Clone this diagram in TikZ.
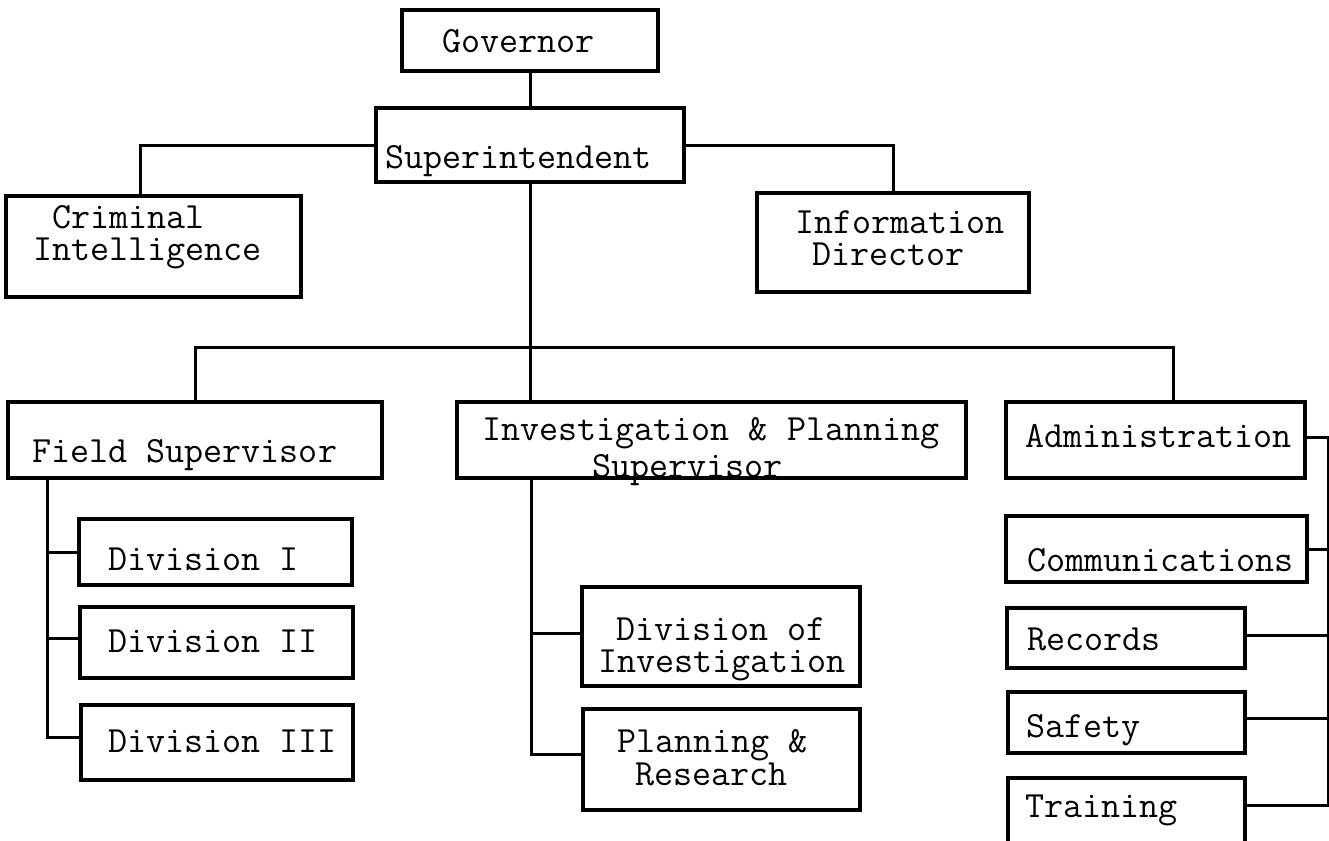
\documentclass[tikz,border=0pt]{standalone}
\usepackage{tikz}
\begin{document}
\begin{tikzpicture}[x=1pt,y=-1pt,
  orgbox/.style={draw, rectangle, line width=3.5pt, inner sep=0pt},
  link/.style={line width=3pt},
  typed/.style={anchor=base west, inner sep=0pt,
    font=\ttfamily\fontsize{37}{32}\selectfont}]

% a box given by its left, top, right and bottom edges
\newcommand\orgunit[5]{%
  \node[orgbox, minimum width={#4pt-#2pt}, minimum height={#5pt-#3pt}]
    (#1) at ({(#2+#4)/2},{(#3+#5)/2}) {};}

\clip (0,0) rectangle (1329,840);
\fill[white] (0,0) rectangle (1329,840);

% top of the chart
\orgunit{gov}{402}{10}{658}{71}
\orgunit{sup}{376}{108}{684}{182}
\orgunit{crim}{6}{196}{301}{297}
\orgunit{info}{757}{193}{1029}{292}

% the three supervisors
\orgunit{field}{8}{402}{382}{478}
\orgunit{inv}{457}{402}{966}{478}
\orgunit{adm}{1006}{402}{1305}{478}

% field divisions
\orgunit{div1}{79}{519}{352}{585}
\orgunit{div2}{80}{607}{353}{678}
\orgunit{div3}{81}{705}{353}{780}

% investigation and planning units
\orgunit{divinv}{582}{587}{860}{686}
\orgunit{plan}{583}{709}{860}{810}

% administration units
\orgunit{comm}{1006}{516}{1307}{582}
\orgunit{rec}{1007}{608}{1245}{668}
\orgunit{safe}{1008}{692}{1245}{753}
\orgunit{train}{1008}{778}{1245}{850}

% texts (single lines)
\node[typed] (t-gov) at (442,53) {Governor};
\node[typed] (t-sup) at (385,168) {Superintendent};
\node[typed] (t-field) at (32,462) {Field Supervisor};
\node[typed] (t-adm) at (1025,447) {Administration};
\node[typed] (t-div1) at (108,570) {Division I};
\node[typed] (t-div2) at (108,652) {Division II};
\node[typed] (t-div3) at (108,752) {Division III};
\node[typed] (t-comm) at (1027,571) {Communications};
\node[typed] (t-rec) at (1027,650) {Records};
\node[typed] (t-safe) at (1026,737) {Safety};
\node[typed] (t-train) at (1025,817) {Training};

% texts (two lines), placed by the baseline of the last line
\node[typed, align=left] (t-crim) at (33,260)
  {\hspace*{19pt}Criminal\\Intelligence};
\node[typed, align=left] (t-info) at (795,265)
  {Information\\\hspace*{17pt}Director};
\node[typed, align=left, font=\ttfamily\fontsize{37}{37}\selectfont] (t-inv) at (482,477)
  {Investigation \& Planning\\\hspace*{110pt}Supervisor};
\node[typed, align=left] (t-divinv) at (598,672)
  {\hspace*{18pt}Division of\\Investigation};
\node[typed, align=left, font=\ttfamily\fontsize{37}{33}\selectfont] (t-plan) at (617,785)
  {Planning \&\\\hspace*{18pt}Research};

% connectors
\draw[link] (gov.south) -- (gov.south |- sup.north);
\draw[link] (sup.west) -| ([xshift=-13.5pt]crim.north);
\draw[link] (sup.east) -| (info.north);
\draw[link] (sup.south) -- (sup.south |- inv.north);

\coordinate (bus) at (sup.south |- 0,347);
\coordinate (admtop) at ([xshift=17.5pt]adm.north);
\draw[link] (field.north) -- (field.north |- bus) -- (bus -| admtop) -- (admtop);

% field spine
\coordinate (fspine) at ([xshift=41pt]field.south west);
\draw[link] (fspine) |- ([yshift=5pt]div3.west);
\draw[link] (fspine |- div1.west) -- (div1.west);
\draw[link] ([yshift=4pt]fspine |- div2.west) -- ([yshift=4pt]div2.west);

% investigation spine
\coordinate (ispine) at ([xshift=76pt]inv.south west);
\draw[link] (ispine) |- ([yshift=5pt]plan.west);
\draw[link] ([yshift=3pt]ispine |- divinv.west) -- ([yshift=3pt]divinv.west);

% administration spine
\draw[link] ([yshift=3pt]adm.east) -- ++(22pt,0) coordinate (aspine)
  |- ([yshift=9pt]train.east);
\draw[link] (comm.east) -- (comm.east -| aspine);
\draw[link] ([yshift=3pt]rec.east) -- ([yshift=3pt]rec.east -| aspine);
\draw[link] ([yshift=4pt]safe.east) -- ([yshift=4pt]safe.east -| aspine);

\end{tikzpicture}
\end{document}
